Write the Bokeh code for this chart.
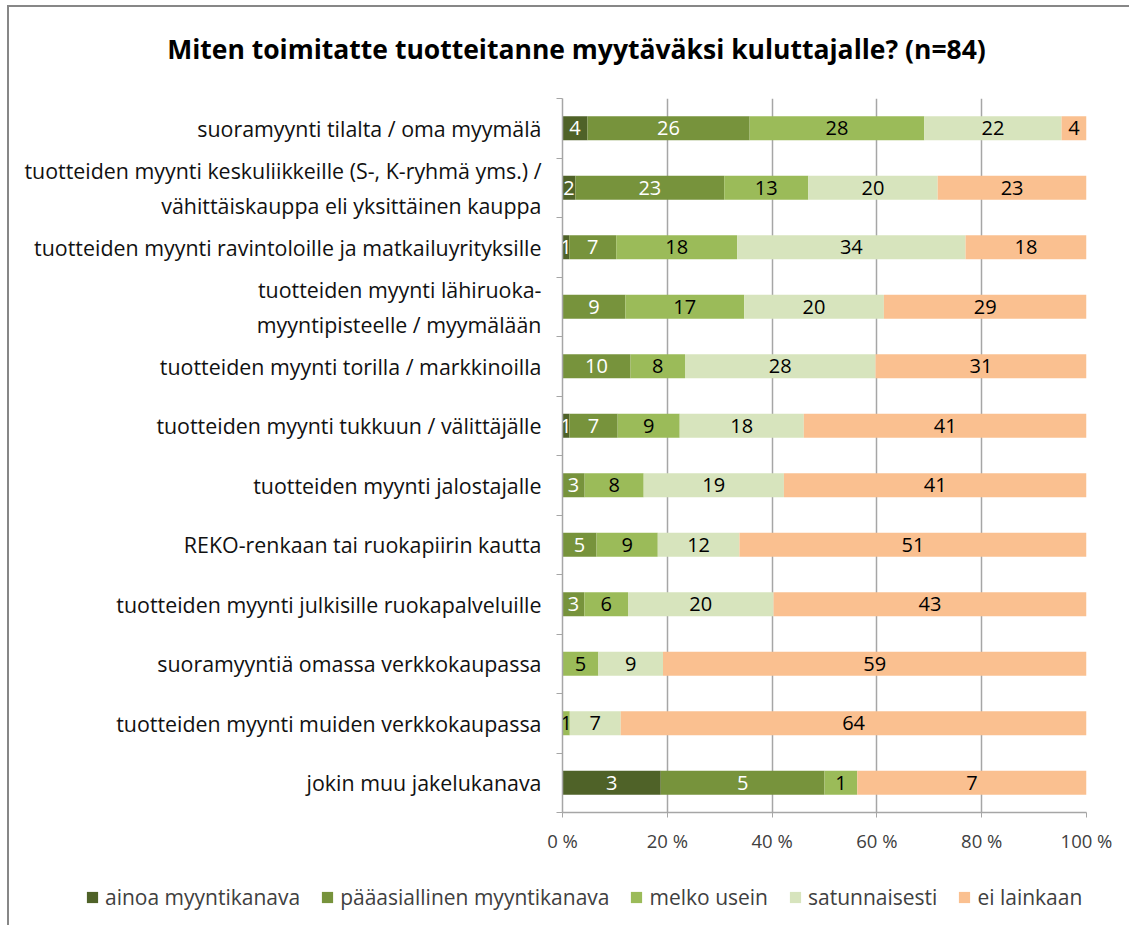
import numpy as np
from bokeh.plotting import figure
from bokeh.layouts import column
from bokeh.models import ColumnDataSource, FixedTicker, Legend, LegendItem, Range1d
from bokeh.core.properties import value
from bokeh.embed import file_html
from bokeh.resources import INLINE

categories = [
    "suoramyynti tilalta / oma myymälä",
    "tuotteiden myynti keskuliikkeille (S-, K-ryhmä yms.) /\nvähittäiskauppa eli yksittäinen kauppa",
    "tuotteiden myynti ravintoloille ja matkailuyrityksille",
    "tuotteiden myynti lähiruoka-\nmyyntipisteelle / myymälään",
    "tuotteiden myynti torilla / markkinoilla",
    "tuotteiden myynti tukkuun / välittäjälle",
    "tuotteiden myynti jalostajalle",
    "REKO-renkaan tai ruokapiirin kautta",
    "tuotteiden myynti julkisille ruokapalveluille",
    "suoramyyntiä omassa verkkokaupassa",
    "tuotteiden myynti muiden verkkokaupassa",
    "jokin muu jakelukanava",
]
series_names = ["ainoa myyntikanava", "pääasiallinen myyntikanava", "melko usein",
                "satunnaisesti", "ei lainkaan"]
ainoa = [4, 2, 1, 0, 0, 1, 0, 0, 0, 0, 0, 3]
paaasiallinen = [26, 23, 7, 9, 10, 7, 3, 5, 3, 0, 0, 5]
melko_usein = [28, 13, 18, 17, 8, 9, 8, 9, 6, 5, 1, 1]
satunnaisesti = [22, 20, 34, 20, 28, 18, 19, 12, 20, 9, 7, 0]
ei_lainkaan = [4, 23, 18, 29, 31, 41, 41, 51, 43, 59, 64, 7]
x_ticks = [0, 0.2, 0.4, 0.6, 0.8, 1.0]
x_tick_labels = ["0 %", "20 %", "40 %", "60 %", "80 %", "100 %"]
title_text = "Miten toimitatte tuotteitanne myytäväksi kuluttajalle? (n=84)"

colors = ["#4F6228", "#77933C", "#9BBB59", "#D7E4BD", "#FAC090"]
label_colors = ["#FFFFFF", "#FFFFFF", "#000000", "#000000", "#000000"]
FONT = "Open Sans"
GRID = "#A6A6A6"
W = 1120

data = np.array([ainoa, paaasiallinen, melko_usein, satunnaisesti, ei_lainkaan], dtype=float)
totals = data.sum(axis=0)
shares = data / totals
cum = np.cumsum(shares, axis=0)
n = len(categories)
ypos = np.array([n - 0.5 - i for i in range(n)])


def blank(height):
    f = figure(width=W, height=height, output_backend="svg", toolbar_location=None,
               x_range=Range1d(0, W), y_range=Range1d(0, height), frame_align=False,
               min_border_left=0, min_border_right=0, min_border_top=0, min_border_bottom=0)
    f.axis.visible = False
    f.grid.grid_line_color = None
    f.outline_line_color = None
    return f


# ---- title strip ----
pt = blank(91)
pt.text(x=[567], y=[50], text=[title_text], text_align="center", text_baseline="middle",
        text_font=value(FONT), text_font_size="26.5px", text_font_style="bold",
        text_color="#000000")

# ---- main chart ----
p = figure(width=W, height=757, output_backend="svg", toolbar_location=None,
           x_range=Range1d(0, 1), y_range=Range1d(0, n), frame_align=False,
           min_border_left=553, min_border_right=43, min_border_top=0, min_border_bottom=40)
p.outline_line_color = None
p.background_fill_color = "white"

for k in range(5):
    left = cum[k] - shares[k]
    right = cum[k]
    src = ColumnDataSource(dict(y=ypos, left=left, right=right))
    p.hbar(y="y", left="left", right="right", height=0.4, source=src,
           fill_color=colors[k], line_color=None)
    mask = data[k] > 0
    lsrc = ColumnDataSource(dict(x=((left + right) / 2)[mask], y=ypos[mask],
                                 t=[str(int(v)) for v in data[k][mask]]))
    p.text(x="x", y="y", text="t", source=lsrc, text_align="center",
           text_baseline="middle", text_font=value(FONT), text_font_size="20px",
           text_color=label_colors[k])

p.xaxis.ticker = FixedTicker(ticks=x_ticks)
p.xaxis.major_label_overrides = {float(v): s for v, s in zip(x_ticks, x_tick_labels)}
p.xaxis.major_label_text_font = FONT
p.xaxis.major_label_text_font_size = "18.5px"
p.xaxis.major_label_text_color = "#404040"
p.xaxis.axis_line_color = GRID
p.xaxis.axis_line_width = 1.5
p.xaxis.major_tick_line_color = GRID
p.xaxis.major_tick_out = 5
p.xaxis.major_tick_in = 0
p.xaxis.minor_tick_line_color = None
p.xaxis.major_label_standoff = 10

p.yaxis.ticker = FixedTicker(ticks=list(ypos), minor_ticks=list(range(n + 1)))
p.yaxis.major_label_overrides = {float(y): c for y, c in zip(ypos, categories)}
p.yaxis.major_label_text_font = FONT
p.yaxis.major_label_text_font_size = "21.4px"
p.yaxis.major_label_text_color = "#111111"
p.yaxis.axis_line_color = GRID
p.yaxis.axis_line_width = 1.5
p.yaxis.major_tick_line_color = None
p.yaxis.major_tick_out = 0
p.yaxis.major_tick_in = 0
p.yaxis.minor_tick_line_color = GRID
p.yaxis.minor_tick_out = 6
p.yaxis.minor_tick_in = 0
p.yaxis.major_label_standoff = 15

p.xgrid.ticker = FixedTicker(ticks=x_ticks)
p.xgrid.grid_line_color = GRID
p.xgrid.grid_line_width = 1.5
p.ygrid.grid_line_color = None

# ---- legend strip ----
pl = blank(70)
items = []
for k in range(5):
    # swatch-only renderer, kept outside the visible range
    r = pl.rect(x=[-1000], y=[-1000], width=1, height=1, fill_color=colors[k], line_color=None)
    items.append(LegendItem(label=series_names[k], renderers=[r]))
legend = Legend(items=items, orientation="horizontal", location=(76, 14),
                label_text_font=FONT, label_text_font_size="21px",
                label_text_color="#404040", glyph_width=14, glyph_height=14,
                label_standoff=6, spacing=20, border_line_color=None,
                background_fill_alpha=0, margin=0, padding=0)
pl.add_layout(legend, "center")

layout = column(pt, p, pl, spacing=0)
layout.styles = {"margin-left": "7px", "margin-top": "5px",
                 "border-left": "2px solid #878787", "border-top": "2px solid #878787"}

open("out.html", "w").write(file_html(layout, INLINE))
